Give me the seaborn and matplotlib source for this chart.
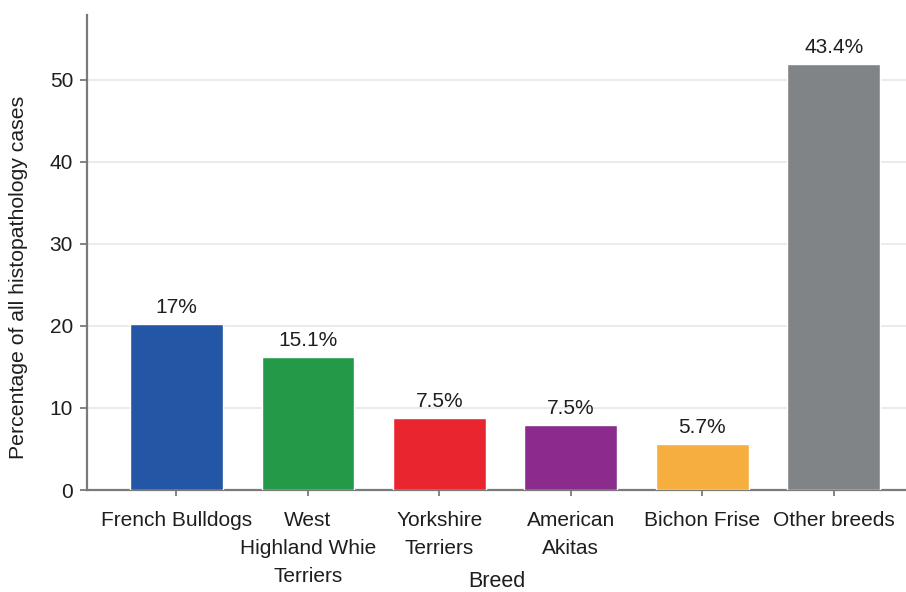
import matplotlib
matplotlib.use("Agg")
import matplotlib.pyplot as plt
import seaborn as sns
import pandas as pd

# Breed categories (tick labels) and plotted heights
breeds = ["French Bulldogs", "West\nHighland Whie\nTerriers", "Yorkshire\nTerriers",
          "American\nAkitas", "Bichon Frise", "Other breeds"]
heights = [20.2, 16.2, 8.8, 7.9, 5.6, 51.9]
# Share annotations printed above each bar
share_labels = ["17%", "15.1%", "7.5%", "7.5%", "5.7%", "43.4%"]
bar_colors = ["#2356a5", "#249a48", "#e9262f", "#8a2b8d", "#f6ae3e", "#818486"]
y_ticks = [0, 10, 20, 30, 40, 50]

df = pd.DataFrame({"breed": breeds, "pct": heights})

sns.set_theme(style="white")
plt.rcParams["font.family"] = ["Liberation Sans", "DejaVu Sans"]

fig = plt.figure(figsize=(9.06, 5.92), dpi=100)
ax = fig.add_axes([87 / 906, 102 / 592, 1 - 87 / 906, 475 / 592])

sns.barplot(data=df, x="breed", y="pct", hue="breed", palette=bar_colors,
            legend=False, width=0.705, saturation=1, ax=ax, zorder=3)

for cont, lab in zip(ax.containers, share_labels):
    ax.bar_label(cont, labels=[lab], padding=5, fontsize=15, color="#1e1e1e")

ax.set_xlim(-0.68, 5.55)
ax.set_ylim(0, 57.9)
ax.set_yticks(y_ticks)
ax.set_xticks(range(len(breeds)))
ax.set_xticklabels(breeds, linespacing=1.6)
ax.yaxis.grid(True, color="#e8e8e8", linewidth=1.2, zorder=0)
ax.set_axisbelow(True)

for side in ["top", "right"]:
    ax.spines[side].set_visible(False)
for side in ["left", "bottom"]:
    ax.spines[side].set_color("#7a7a7a")
    ax.spines[side].set_linewidth(1.6)

ax.tick_params(axis="y", which="major", length=5, width=1.3, color="#7a7a7a",
               pad=5, labelsize=15, labelcolor="#1e1e1e", left=True)
ax.tick_params(axis="x", which="major", length=4, width=1.3, color="#7a7a7a",
               pad=11, labelsize=15, labelcolor="#1e1e1e", bottom=True)

ax.set_ylabel("Percentage of all histopathology cases", fontsize=15.3, color="#1e1e1e")
ax.yaxis.set_label_coords(-0.072, 0.448)
ax.set_xlabel("Breed", fontsize=15.5, color="#1e1e1e", va="baseline")
ax.xaxis.set_label_coords(0.5, -(587 - 490) / 475)

fig.savefig("out.png", dpi=100)
